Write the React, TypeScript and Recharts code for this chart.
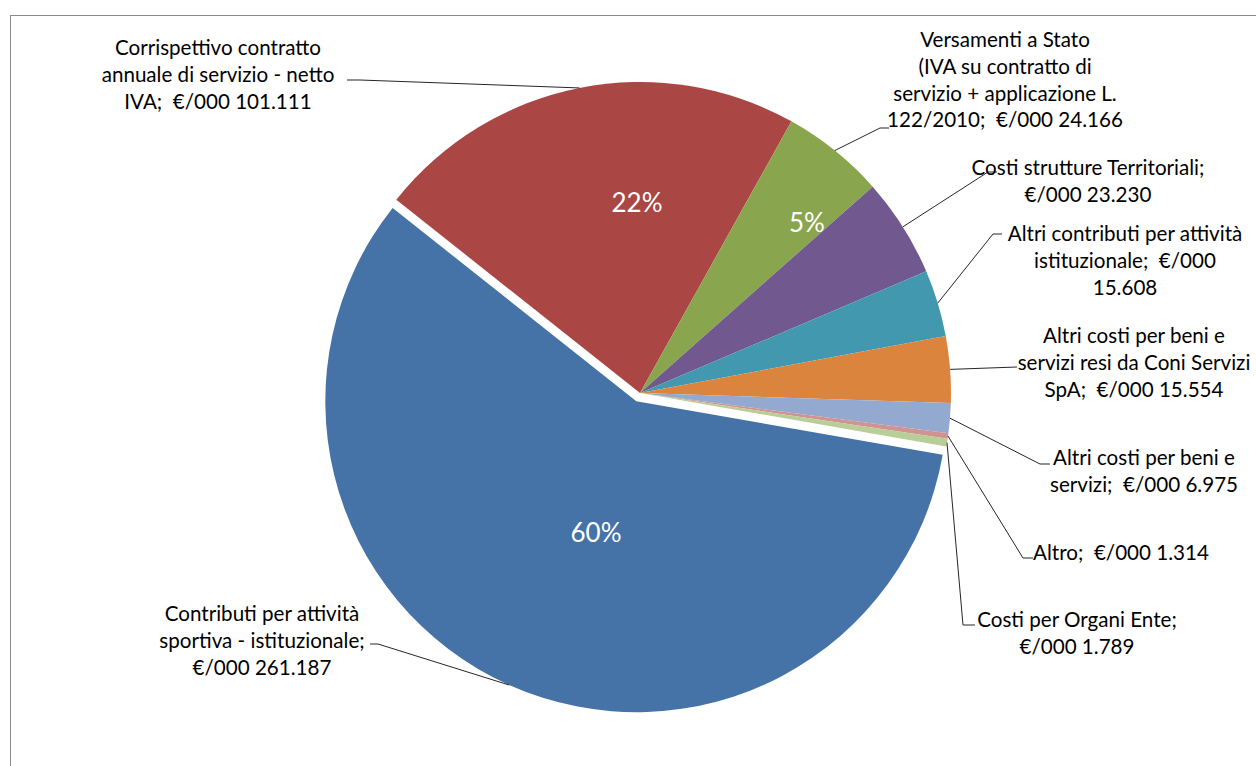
import React from 'react';
import { PieChart, Pie, Cell } from 'recharts';

const categories = [
  'Contributi per attività sportiva - istituzionale',
  'Corrispettivo contratto annuale di servizio - netto IVA',
  'Versamenti a Stato (IVA su contratto di servizio + applicazione L. 122/2010',
  'Costi strutture Territoriali',
  'Altri contributi per attività istituzionale',
  'Altri costi per beni e servizi resi da Coni Servizi SpA',
  'Altri costi per beni e servizi',
  'Altro',
  'Costi per Organi Ente',
];

const values = [261187, 101111, 24166, 23230, 15608, 15554, 6975, 1314, 1789];

const percentLabels = ['60%', '22%', '5%', '', '', '', '', '', ''];

const labelTexts: string[][] = [
  ['Contributi per attività', 'sportiva - istituzionale;', '€/000 261.187'],
  ['Corrispettivo contratto', 'annuale di servizio - netto', 'IVA;  €/000 101.111'],
  ['Versamenti a Stato', '(IVA su contratto di', 'servizio + applicazione L.', '122/2010;  €/000 24.166'],
  ['Costi strutture Territoriali;', '€/000 23.230'],
  ['Altri contributi per attività', 'istituzionale;  €/000', '15.608'],
  ['Altri costi per beni e', 'servizi resi da Coni Servizi', 'SpA;  €/000 15.554'],
  ['Altri costi per beni e', 'servizi;  €/000 6.975'],
  ['Altro;  €/000 1.314'],
  ['Costi per Organi Ente;', '€/000 1.789'],
];

const colors = ['#4572A7', '#AA4643', '#89A54E', '#71588F', '#4198AF', '#DB843D', '#93A9CF', '#D19392', '#B9CD96'];

// layout of annotation labels (text centre, leader elbow and end)
const labelLayout = [
  { x: 262, y: 613, elbow: [378, 644], end: [370, 644], px: 596, py: 532 },
  { x: 218, y: 47, elbow: [360, 80], end: [347, 80], px: 637, py: 202 },
  { x: 1005, y: 39, elbow: [880, 128], end: [889, 128], px: 807, py: 222 },
  { x: 1088, y: 167, elbow: [988, 172], end: [997, 172], px: 0, py: 0 },
  { x: 1125, y: 233, elbow: [993, 234], end: [1002, 234], px: 0, py: 0 },
  { x: 1134, y: 335, elbow: [1017, 367], end: [1017, 367], px: 0, py: 0 },
  { x: 1144, y: 457, elbow: [1040, 464], end: [1050, 464], px: 0, py: 0 },
  { x: 1121, y: 552, elbow: [1023, 558], end: [1033, 558], px: 0, py: 0 },
  { x: 1077, y: 619, elbow: [963, 625], end: [975, 625], px: 0, py: 0 },
];

const data = categories.map((name, i) => ({ name, value: values[i] }));

const CX = 640;
const CY = 393;
const R = 311;
const START = -9.9;
const EXPLODE = 9;
const FONT = 'Lato, "Open Sans", sans-serif';
const LINE_H = 26.8;

const total = values.reduce((a, b) => a + b, 0);
const blueMid = START - (values[0] / total) * 360 / 2;
const RAD = Math.PI / 180;
const CX2 = CX + EXPLODE * Math.cos(-blueMid * RAD);
const CY2 = CY + EXPLODE * Math.sin(-blueMid * RAD);

const makeLabel = (exploded: boolean) => (props: any) => {
  const { cx, cy, midAngle, outerRadius, index } = props;
  if ((index === 0) !== exploded) return null;
  const lay = labelLayout[index];
  const sx = cx + outerRadius * Math.cos(-midAngle * RAD);
  const sy = cy + outerRadius * Math.sin(-midAngle * RAD);
  const lines = labelTexts[index];
  return (
    <g key={`lbl-${index}`}>
      <polyline
        points={`${sx},${sy} ${lay.elbow[0]},${lay.elbow[1]} ${lay.end[0]},${lay.end[1]}`}
        fill="none"
        stroke="#262626"
        strokeWidth={1}
      />
      <text
        x={lay.x}
        y={lay.y}
        textAnchor="middle"
        dominantBaseline="central"
        fontFamily={FONT}
        fontSize={20.6}
        fill="#000"
      >
        {lines.map((l, k) => (
          <tspan key={k} x={lay.x} y={lay.y + k * LINE_H} style={{ whiteSpace: 'pre' }}>
            {l}
          </tspan>
        ))}
      </text>
      {percentLabels[index] ? (
        <text
          x={lay.px}
          y={lay.py}
          textAnchor="middle"
          dominantBaseline="central"
          fontFamily={FONT}
          fontSize={26}
          fill="#fff"
        >
          {percentLabels[index]}
        </text>
      ) : null}
    </g>
  );
};

export default function App() {
  return (
    <div style={{ position: 'absolute', left: 0, top: 0, width: 1256, height: 766, overflow: 'hidden', background: '#fff' }}>
      <div
        style={{
          position: 'absolute',
          left: 10,
          top: 15,
          width: 1400,
          height: 900,
          border: '1px solid #8a8a8a',
        }}
      />
      <div style={{ position: 'absolute', left: 0, top: 0 }}>
        <PieChart width={1256} height={766} margin={{ top: 0, right: 0, bottom: 0, left: 0 }}>
          <Pie
            data={data}
            dataKey="value"
            nameKey="name"
            cx={CX}
            cy={CY}
            outerRadius={R}
            innerRadius={0}
            startAngle={START}
            endAngle={START - 360}
            isAnimationActive={false}
            labelLine={false}
            label={makeLabel(false)}
            stroke="none"
          >
            {data.map((d, i) => (
              <Cell key={i} fill={i === 0 ? 'none' : colors[i]} stroke="none" />
            ))}
          </Pie>
          <Pie
            data={data}
            dataKey="value"
            nameKey="name"
            cx={CX2}
            cy={CY2}
            outerRadius={R}
            innerRadius={0}
            startAngle={START}
            endAngle={START - 360}
            isAnimationActive={false}
            labelLine={false}
            label={makeLabel(true)}
            stroke="none"
          >
            {data.map((d, i) => (
              <Cell key={i} fill={i === 0 ? colors[0] : 'none'} stroke="none" />
            ))}
          </Pie>
        </PieChart>
      </div>
    </div>
  );
}
